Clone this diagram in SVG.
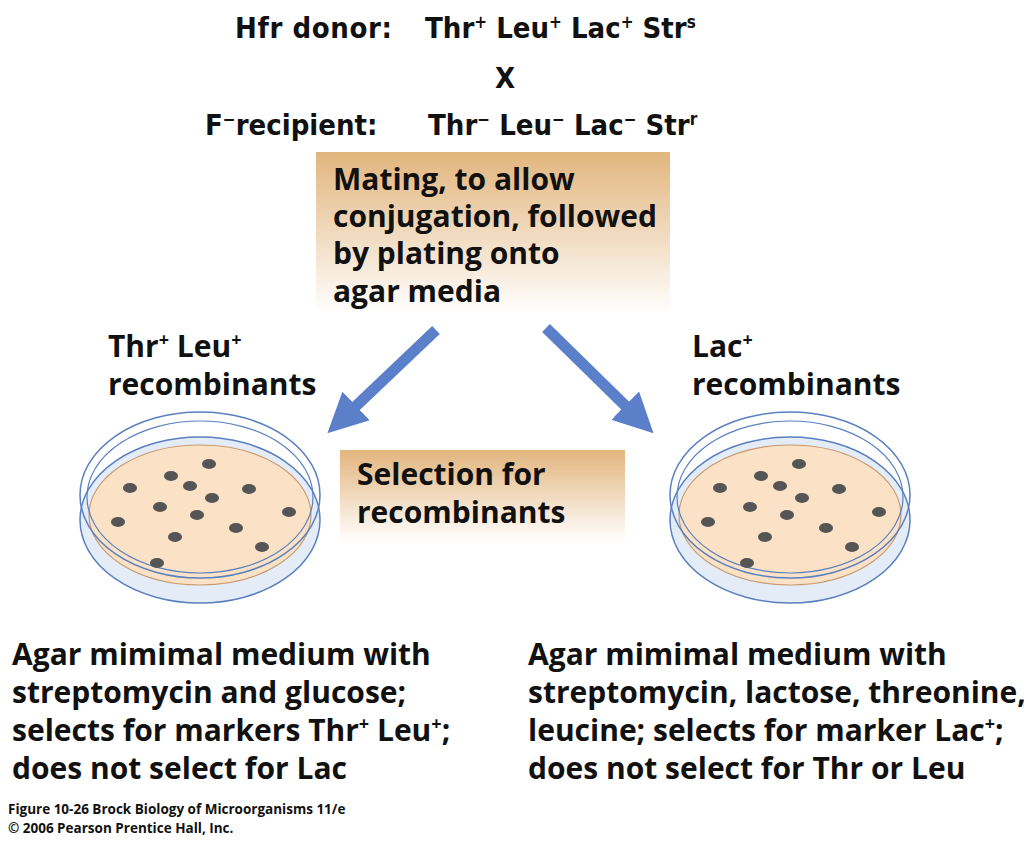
<svg xmlns="http://www.w3.org/2000/svg" width="1024" height="842" viewBox="0 0 1024 842">
<style>
.h{font-family:"DejaVu Sans Condensed","DejaVu Sans",sans-serif;font-weight:bold;font-stretch:condensed;font-size:29px;fill:#111}
.t{font-family:"Open Sans","Liberation Sans",sans-serif;font-weight:bold;font-size:30px;fill:#111}
.f{font-family:"Open Sans","Liberation Sans",sans-serif;font-weight:bold;font-size:13.5px;fill:#111}
.c{fill:#555}
.arr{stroke:#5b7fc8;stroke-width:11;fill:none}
</style>
<defs>
<linearGradient id="g" x1="0" y1="0" x2="0" y2="1"><stop offset="0" stop-color="#e2b57d"/><stop offset="1" stop-color="#fff"/></linearGradient>
<marker id="ah" viewBox="0 0 10 10" refX="7" refY="5" markerWidth="3.6" markerHeight="3.6" orient="auto" markerUnits="strokeWidth"><path d="M0,0L10,5L0,10z" fill="#5b7fc8"/></marker>
<g id="dish">
<ellipse cx="0" cy="25" rx="120" ry="83" fill="#e4ecf8" stroke="#5a80c0" stroke-width="1.5"/>
<ellipse cx="0" cy="20" rx="111" ry="70" fill="#fbe2c6" stroke="#c99a70" stroke-width="1.2"/>
<ellipse cx="0" cy="0" rx="120" ry="83" fill="none" stroke="#5a80c0" stroke-width="1.5"/>
<ellipse cx="0" cy="2" rx="113" ry="76" fill="none" stroke="#5a80c0" stroke-width="1.2"/>
</g>
</defs>
<g id="header">
<text class="h" x="235" y="38" textLength="157">Hfr donor:</text>
<text class="h" x="425" y="38">Thr<tspan font-size="17" dy="-10">+</tspan><tspan dy="10"> Leu</tspan><tspan font-size="17" dy="-10">+</tspan><tspan dy="10"> Lac</tspan><tspan font-size="17" dy="-10">+</tspan><tspan dy="10"> Str</tspan><tspan font-size="17" dy="-10">s</tspan></text>
<text class="h" x="505" y="88" text-anchor="middle">X</text>
<text class="h" x="205" y="135">F<tspan font-size="17" dy="-10">−</tspan><tspan dy="10">recipient:</tspan></text>
<text class="h" x="428" y="135">Thr<tspan font-size="17" dy="-10">−</tspan><tspan dy="10"> Leu</tspan><tspan font-size="17" dy="-10">−</tspan><tspan dy="10"> Lac</tspan><tspan font-size="17" dy="-10">−</tspan><tspan dy="10"> Str</tspan><tspan font-size="17" dy="-10">r</tspan></text>
</g>
<g id="mating">
<rect x="316" y="152" width="354" height="162" fill="url(#g)"/>
<text class="t" x="333" y="190">Mating, to allow</text>
<text class="t" x="333" y="227">conjugation, followed</text>
<text class="t" x="333" y="264">by plating onto</text>
<text class="t" x="333" y="302">agar media</text>
</g>
<g id="connectors">
<line class="arr" x1="436" y1="330" x2="336" y2="425" marker-end="url(#ah)"/>
<line class="arr" x1="546" y1="328" x2="645" y2="425" marker-end="url(#ah)"/>
</g>
<g id="leftlabel">
<text class="t" x="108" y="357">Thr<tspan font-size="18" dy="-11">+</tspan><tspan dy="11"> Leu</tspan><tspan font-size="18" dy="-11">+</tspan></text>
<text class="t" x="108" y="395">recombinants</text>
</g>
<g id="rightlabel">
<text class="t" x="692" y="357">Lac<tspan font-size="18" dy="-11">+</tspan></text>
<text class="t" x="692" y="395">recombinants</text>
</g>
<g id="selection">
<rect x="340" y="450" width="285" height="92" fill="url(#g)"/>
<text class="t" x="357" y="485">Selection for</text>
<text class="t" x="357" y="523">recombinants</text>
</g>
<g id="leftdish">
<use href="#dish" x="200" y="495"/>
<g class="c">
<ellipse cx="130" cy="488" rx="7" ry="5"/><ellipse cx="171" cy="476" rx="7" ry="5"/><ellipse cx="209" cy="464" rx="7" ry="5"/><ellipse cx="190" cy="486" rx="7" ry="5"/><ellipse cx="249" cy="489" rx="7" ry="5"/><ellipse cx="212" cy="498" rx="7" ry="5"/><ellipse cx="160" cy="507" rx="7" ry="5"/><ellipse cx="197" cy="515" rx="7" ry="5"/><ellipse cx="118" cy="522" rx="7" ry="5"/><ellipse cx="236" cy="528" rx="7" ry="5"/><ellipse cx="289" cy="512" rx="7" ry="5"/><ellipse cx="175" cy="537" rx="7" ry="5"/><ellipse cx="262" cy="547" rx="7" ry="5"/><ellipse cx="157" cy="563" rx="7" ry="5"/>
</g>
</g>
<g id="rightdish">
<use href="#dish" x="790" y="495"/>
<g class="c" transform="translate(590,0)">
<ellipse cx="130" cy="488" rx="7" ry="5"/><ellipse cx="171" cy="476" rx="7" ry="5"/><ellipse cx="209" cy="464" rx="7" ry="5"/><ellipse cx="190" cy="486" rx="7" ry="5"/><ellipse cx="249" cy="489" rx="7" ry="5"/><ellipse cx="212" cy="498" rx="7" ry="5"/><ellipse cx="160" cy="507" rx="7" ry="5"/><ellipse cx="197" cy="515" rx="7" ry="5"/><ellipse cx="118" cy="522" rx="7" ry="5"/><ellipse cx="236" cy="528" rx="7" ry="5"/><ellipse cx="289" cy="512" rx="7" ry="5"/><ellipse cx="175" cy="537" rx="7" ry="5"/><ellipse cx="262" cy="547" rx="7" ry="5"/><ellipse cx="157" cy="563" rx="7" ry="5"/>
</g>
</g>
<g id="leftdesc">
<text class="t" x="12" y="665">Agar mimimal medium with</text>
<text class="t" x="12" y="703">streptomycin and glucose;</text>
<text class="t" x="12" y="741">selects for markers Thr<tspan font-size="18" dy="-11">+</tspan><tspan dy="11"> Leu</tspan><tspan font-size="18" dy="-11">+</tspan><tspan dy="11">;</tspan></text>
<text class="t" x="12" y="779">does not select for Lac</text>
</g>
<g id="rightdesc">
<text class="t" x="528" y="665">Agar mimimal medium with</text>
<text class="t" x="528" y="703">streptomycin, lactose, threonine,</text>
<text class="t" x="528" y="741">leucine; selects for marker Lac<tspan font-size="18" dy="-11">+</tspan><tspan dy="11">;</tspan></text>
<text class="t" x="528" y="779">does not select for Thr or Leu</text>
</g>
<g id="footer">
<text class="f" x="8" y="814">Figure 10-26  Brock Biology of Microorganisms 11/e</text>
<text class="f" x="8" y="833">© 2006 Pearson Prentice Hall, Inc.</text>
</g>
</svg>
